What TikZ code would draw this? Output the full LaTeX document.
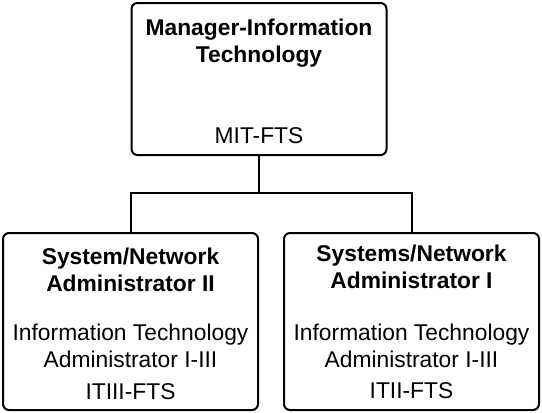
\documentclass[tikz,border=0pt]{standalone}
\usepackage{fontspec}
\setmainfont{Liberation Sans}
\begin{document}
\begin{tikzpicture}[x=1pt,y=1pt,
  box/.style={draw=black,line width=2pt,rounded corners=6pt,minimum width=#1,inner sep=0pt},
  ttl/.style={anchor=base,font=\fontsize{22.8}{27}\selectfont\bfseries,inner sep=0pt},
  txt/.style={anchor=base,font=\fontsize{22.8}{27}\selectfont,inner sep=0pt},
  conn/.style={draw=black,line width=2pt}]
\useasboundingbox (0,0) rectangle (542,-413);
\node[box=255pt,minimum height=152pt] (top) at (259,-79) {};
\node[box=255pt,minimum height=177pt] (left) at (130.5,-321.5) {};
\node[box=255pt,minimum height=177pt] (right) at (411.5,-321.5) {};
\coordinate (j) at (259,-193);
\draw[conn] (top.south) -- (j);
\draw[conn] (left.north) |- (j) -| (right.north);
% top texts
\node[ttl] (t1) at (259,-35) {Manager-Information};
\node[ttl] (t2) at (259,-62) {Technology};
\node[txt] (t3) at (259,-143) {MIT-FTS};
% left texts
\node[ttl] (l1) at (130.5,-264) {System/Network};
\node[ttl] (l2) at (130.5,-291) {Administrator II};
\node[txt] (l3) at (130.5,-340) {Information Technology};
\node[txt] (l4) at (130.5,-367) {Administrator I-III};
\node[txt] (l5) at (130.5,-399) {ITIII-FTS};
% right texts
\node[ttl] (r1) at (411.5,-261) {Systems/Network};
\node[ttl] (r2) at (411.5,-288) {Administrator I};
\node[txt] (r3) at (411.5,-340) {Information Technology};
\node[txt] (r4) at (411.5,-367) {Administrator I-III};
\node[txt] (r5) at (411.5,-398) {ITII-FTS};
\end{tikzpicture}
\end{document}
